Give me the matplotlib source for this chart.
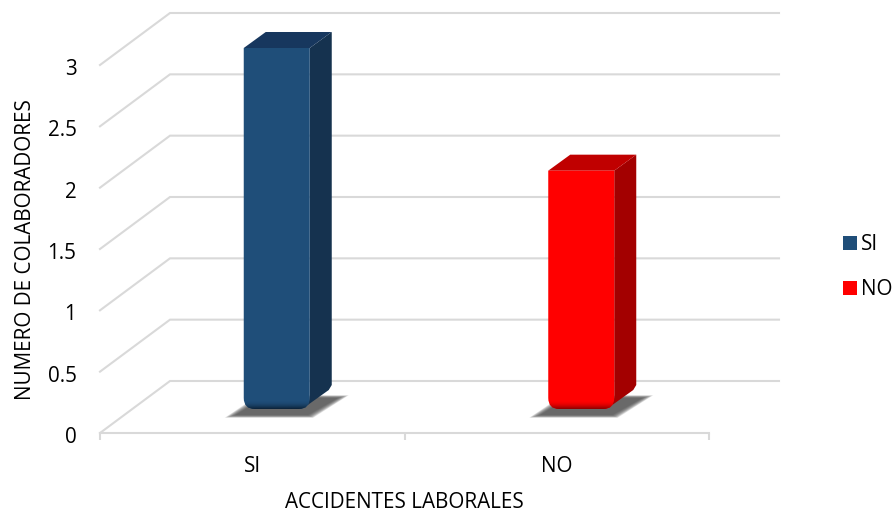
import matplotlib
matplotlib.use('Agg')
import matplotlib.pyplot as plt
import numpy as np
from matplotlib.colors import to_rgb
from matplotlib.patches import Polygon, PathPatch, Patch
from matplotlib.path import Path
from matplotlib.transforms import ScaledTranslation

plt.rcParams['font.family'] = ['Open Sans', 'DejaVu Sans']

categories = ['SI', 'NO']
values = [3, 2]
front_colors = ['#1f4e79', '#ff0000']
side_colors = ['#15324f', '#a30000']
top_colors = ['#17375e', '#c00000']
shade_colors = ['#0c2238', '#8a0000']
y_ticks = [0, 0.5, 1, 1.5, 2, 2.5, 3]
y_labels = ['0', '0.5', '1', '1.5', '2', '2.5', '3']

W, H = 896, 512
x0, x1 = 100, 709
y0, y3 = 433, 65
ux = (x1 - x0) / 2
uy = (y0 - y3) / 3
fs = 14.9

def dx(p):
    return p / ux

def dy(p):
    return p / uy

fig = plt.figure(figsize=(W / 100, H / 100), dpi=100)
ax = fig.add_axes([x0 / W, 1 - y0 / H, (x1 - x0) / W, (y0 - y3) / H])
ax.set_xlim(0, 2)
ax.set_ylim(0, 3)
ax.patch.set_visible(False)
for s in ['top', 'right', 'left']:
    ax.spines[s].set_visible(False)
ax.spines['bottom'].set_color('#d9d9d9')
ax.spines['bottom'].set_linewidth(1.5)

grid = '#d9d9d9'
depth_x, depth_y = dx(70), dy(52)
for t in y_ticks:
    ax.plot([0, depth_x, 2 + depth_x], [t, t + depth_y, t + depth_y], color=grid,
            lw=1.5, clip_on=False, zorder=1, solid_joinstyle='miter')

ax.set_xticks([0, 1, 2])
ax.set_xticklabels([])
ax.tick_params(axis='x', length=5, width=1.5, color=grid)
ax.set_yticks(y_ticks)
ax.set_yticklabels(y_labels, fontsize=fs, color='black')
ax.tick_params(axis='y', length=0, pad=17)
# nudge the value labels down a little
nudge = ScaledTranslation(0, -2 / 100, fig.dpi_scale_trans)
for lab in ax.get_yticklabels():
    lab.set_transform(lab.get_transform() + nudge)
for i, c in enumerate(categories):
    ax.text(i + 0.5, -dy(34), c, fontsize=fs, ha='center', va='center')

fig.text(404 / W, 1 - 502 / H, 'ACCIDENTES LABORALES', fontsize=fs, ha='center', va='center')
fig.text(25.5 / W, 1 - 250 / H, 'NUMERO DE COLABORADORES', fontsize=fs, rotation=90,
         ha='center', va='center')

# bars
half = dx(33)
off_x = dx(24.5)
lift = dy(17)          # front face sits a bit behind the floor edge
bottom = dy(24)
sx, sy = dx(22), dy(16)
rx, ry = dx(11), dy(11)

for i, v in enumerate(values):
    cx = i + 0.5 + off_x
    l, r = cx - half, cx + half
    top = v + lift

    # blurred shadow on the floor, stacked polygons from wide to narrow
    sh = np.array([[l - dx(8), bottom - dy(6)], [r - dx(2), bottom - dy(6)],
                   [r + dx(28), bottom + dy(11)], [l + dx(20), bottom + dy(11)]])
    for g in range(12):
        pad = (11 - g) * 1.0
        p = sh + np.array([[-dx(pad), -dy(pad / 4)], [dx(pad / 2), -dy(pad / 4)],
                           [dx(pad), dy(pad / 4)], [-dx(pad / 2), dy(pad / 4)]])
        ax.add_patch(Polygon(p, closed=True, fc='#4a4a4a', ec='none', alpha=0.13, zorder=2))

    # side and top faces
    ax.add_patch(Polygon([[r, top], [r + sx, top + sy], [r + sx, bottom + dy(24)],
                          [r + sx - dx(3), bottom + dy(19)], [r - dx(2), bottom + dy(4)], [r, bottom + ry]],
                         closed=True, fc=side_colors[i], ec='none', zorder=3, clip_on=False))
    ax.add_patch(Polygon([[l, top], [l + sx, top + sy], [r + sx, top + sy], [r, top]],
                         closed=True, fc=top_colors[i], ec='none', zorder=3, clip_on=False))

    # front face with rounded lower corners
    verts = [(l, top), (l, bottom + ry), (l, bottom), (l + rx, bottom),
             (r - rx, bottom), (r, bottom), (r, bottom + ry), (r, top), (l, top)]
    codes = [Path.MOVETO, Path.LINETO, Path.CURVE3, Path.CURVE3,
             Path.LINETO, Path.CURVE3, Path.CURVE3, Path.LINETO, Path.CLOSEPOLY]
    front = PathPatch(Path(verts, codes), fc=front_colors[i], ec='none', zorder=4, clip_on=False)
    ax.add_patch(front)

    # darker bevel along the bottom of the front face
    rgba = np.zeros((24, 1, 4))
    rgba[..., :3] = to_rgb(shade_colors[i])
    rgba[:, 0, 3] = np.linspace(0, 1, 24) ** 2
    im = ax.imshow(rgba, extent=(l, r, bottom, bottom + dy(9)), origin='upper',
                   aspect='auto', zorder=5, interpolation='bilinear')
    im.set_clip_path(Path(verts, codes), ax.transData)

ax.set_xlim(0, 2)
ax.set_ylim(0, 3)

handles = [Patch(fc=front_colors[i], ec='none', label=categories[i]) for i in range(2)]
fig.legend(handles=handles, loc='center left', bbox_to_anchor=(841 / W, 1 - 267 / H), frameon=False,
           fontsize=fs, handlelength=0.68, handleheight=0.68, handletextpad=0.2,
           labelspacing=1.15, borderpad=0.1, borderaxespad=0)

fig.savefig('out.png', dpi=100)
